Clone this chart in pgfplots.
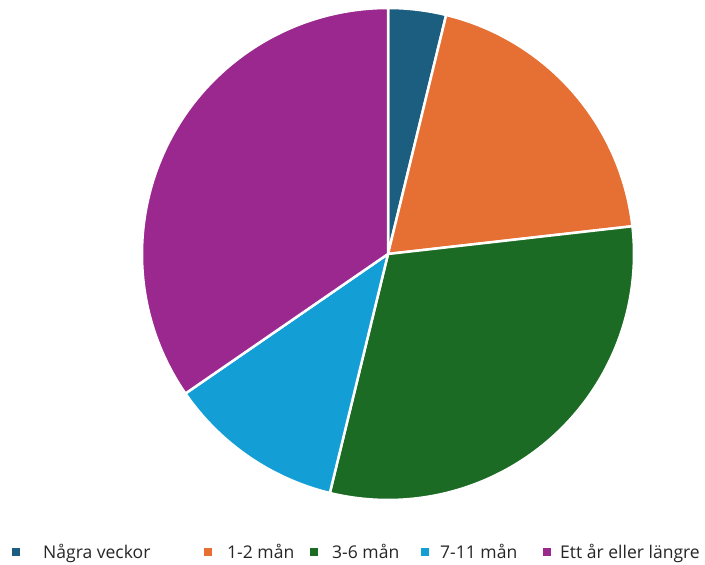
\documentclass[border=0pt]{standalone}
\usepackage{pgfplots}
\pgfplotsset{compat=1.18}
\usepackage{fontspec}
\setmainfont{Open Sans}

\definecolor{cA}{HTML}{1B5E80}
\definecolor{cB}{HTML}{E66F34}
\definecolor{cC}{HTML}{1B6B24}
\definecolor{cD}{HTML}{139FD6}
\definecolor{cE}{HTML}{9B288E}

% share in percent / colour
\newcommand\slices{3.8/cA,19.4/cB,30.6/cC,11.6/cD,34.6/cE}

\begin{document}
\begin{tikzpicture}
\begin{axis}[
    scale only axis,
    width=705bp, height=565bp,
    xmin=0, xmax=705, ymin=0, ymax=565,
    hide axis, clip=false,
]
\path (axis cs:0,0) rectangle (axis cs:705,565);
\pgfplotsextra{
  \gdef\acc{0}
  \foreach \v/\c in \slices {
    \pgfmathsetmacro\sa{90-3.6*\acc}
    \pgfmathsetmacro\ea{90-3.6*(\acc+\v)}
    \fill[\c, draw=white, line width=2.5bp, line join=round]
      (axis cs:388,311) -- ++(\sa:246bp)
      arc[start angle=\sa, end angle=\ea, radius=246bp] -- cycle;
    \pgfmathsetmacro\nacc{\acc+\v}
    \global\let\acc\nacc
  }
}
% legend
\pgfplotsextra{
  \fontsize{17.6}{20}\selectfont
  \foreach \sx/\tx/\c/\t in {12/43/cA/Några veckor, 204/227/cB/1-2 mån,
      310/332/cC/3-6 mån, 421/440/cD/7-11 mån, 543/560/cE/Ett år eller längre} {
    \fill[\c] (axis cs:\sx,9) rectangle (axis cs:\sx+8,17);
    \node[anchor=base west, inner sep=0pt, text=black!85] at (axis cs:\tx,7) {\t};
  }
}
\end{axis}
\end{tikzpicture}
\end{document}
